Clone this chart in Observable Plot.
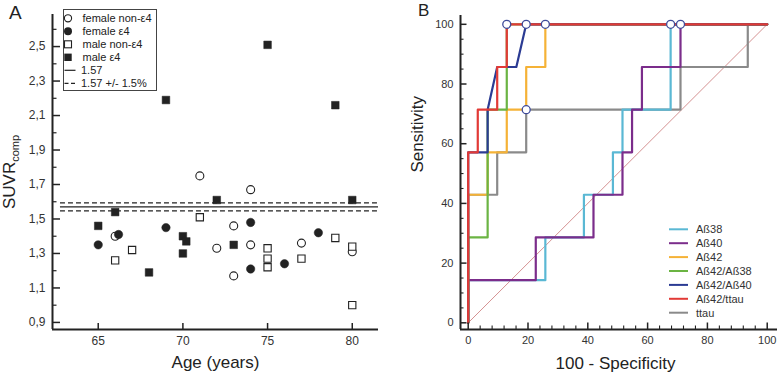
<!DOCTYPE html>
<html><head><meta charset="utf-8">
<script src="https://cdn.jsdelivr.net/npm/d3@7"></script>
<script src="https://cdn.jsdelivr.net/npm/@observablehq/plot@0.6"></script>
<style>
body{margin:0;background:#fff;}
#wrap{display:flex;width:778px;height:373px;overflow:hidden;background:#fff;font-family:"Liberation Sans",Arial,sans-serif;}
svg{display:block;flex:none}
</style></head><body><div id="wrap"></div>
<script>
// ---------- Panel A data: [age, SUVRcomp] ----------
const femaleNonE4 = [[66,1.40],[71,1.75],[72,1.33],[73,1.46],[73,1.17],[74,1.67],[74,1.35],[77,1.36],[80,1.31]];
const femaleE4    = [[65,1.35],[66.2,1.41],[69,1.45],[74,1.48],[74,1.21],[76,1.24],[78,1.42]];
const maleNonE4   = [[66,1.26],[67,1.32],[71,1.51],[75,1.33],[75,1.27],[75,1.22],[77,1.27],[79,1.39],[80,1.34],[80,1.00]];
const maleE4      = [[65,1.46],[66,1.54],[68,1.19],[69,2.19],[70,1.40],[70.2,1.37],[70,1.30],[72,1.61],[73,1.35],[75,2.51],[79,2.16],[80,1.61]];
const threshold = 1.57;
const thresholdBand = 0.015;
const legendA = ["female non-ε4","female ε4","male non-ε4","male ε4","1.57","1.57 +/- 1.5%"];
const ageTicks = [65,70,75,80];
const suvrTicks = [0.9,1.1,1.3,1.5,1.7,1.9,2.1,2.3,2.5];
const suvrMinorTicks = [1.0,1.2,1.4,1.6,1.8,2.0,2.2,2.4,2.6];

// ---------- Panel B data: [100 - specificity, sensitivity] ----------
const rocNames  = ["Aß38","Aß40","Aß42","Aß42/Aß38","Aß42/Aß40","Aß42/ttau","ttau"];
const rocColors = ["#5ab8d4","#7b2d8b","#f5b236","#6bb443","#2b3b93","#e23a36","#8a8a8a"];
const rocAb38 = [[0,0],[0,14.3],[25.8,14.3],[25.8,28.6],[38.7,28.6],[38.7,42.9],[48.4,42.9],[48.4,57.1],[51.6,57.1],[51.6,71.4],[67.7,71.4],[67.7,100],[100,100]];
const rocAb40 = [[0,0],[0,14.3],[22.6,14.3],[22.6,28.6],[41.9,28.6],[41.9,42.9],[51.6,42.9],[51.6,57.1],[54.8,57.1],[54.8,71.4],[58.1,71.4],[58.1,85.7],[71.0,85.7],[71.0,100],[100,100]];
const rocAb42 = [[0,0],[0,42.9],[6.5,42.9],[6.5,57.1],[12.9,57.1],[12.9,71.4],[19.4,71.4],[19.4,85.7],[25.8,85.7],[25.8,100],[100,100]];
const rocAb42Ab38 = [[0,0],[0,28.6],[6.5,28.6],[6.5,71.4],[12.9,71.4],[12.9,100],[100,100]];
const rocAb42Ab40 = [[0,0],[0,57.1],[6.5,57.1],[6.5,71.4],[9.7,85.7],[16.1,85.7],[19.4,100],[100,100]];
const rocAb42Ttau = [[0,0],[0,57.1],[3.2,57.1],[3.2,71.4],[9.7,71.4],[9.7,85.7],[12.9,85.7],[12.9,100],[100,100]];
const rocTtau = [[0,0],[0,42.9],[9.7,42.9],[9.7,57.1],[19.4,57.1],[19.4,71.4],[71.0,71.4],[71.0,85.7],[93.5,85.7],[93.5,100],[100,100]];
const cutoffPoints = [[12.9,100],[19.4,100],[25.8,100],[67.7,100],[71.0,100],[19.4,71.4]];
const chanceLine = [[0,0],[100,100]];
const pctTicks = [0,20,40,60,80,100];
const xMinorTicks = [4,8,12,16,24,28,32,36,44,48,52,56,64,68,72,76,84,88,92,96];
const yMinorTicks = [5,10,15,25,30,35,45,50,55,65,70,75,85,90,95];

const font = "Liberation Sans, Arial, sans-serif";
const ink = "#222";
const fx = d => d[0], fy = d => d[1];

// ---------- Panel A ----------
const WA = 390, HA = 373, mlA = 52, mrA = 12, mtA = 14, mbA = 44;
const pwA = WA - mlA - mrA, phA = HA - mtA - mbA;
const xDomA = [62.3, 81.55], yDomA = [0.859, 2.686];
const plotA = Plot.plot({
  width: WA, height: HA, marginLeft: mlA, marginRight: mrA, marginTop: mtA, marginBottom: mbA,
  style: {fontFamily: font, background: "transparent", color: ink, overflow: "visible"},
  x: {domain: xDomA}, y: {domain: yDomA},
  marks: [
    Plot.ruleY([threshold], {x1: 62.77, x2: xDomA[1], stroke: ink, strokeWidth: 1.3}),
    Plot.ruleY([threshold * (1 - thresholdBand), threshold * (1 + thresholdBand)], {x1: 62.77, x2: xDomA[1], stroke: ink, strokeWidth: 1.3, strokeDasharray: "5,3"}),
    Plot.dot(femaleNonE4, {x: fx, y: fy, symbol: "circle", r: 4, fill: "white", stroke: ink, strokeWidth: 1.1}),
    Plot.dot(femaleE4, {x: fx, y: fy, symbol: "circle", r: 4.2, fill: ink, stroke: ink, strokeWidth: 0.5}),
    Plot.dot(maleNonE4, {x: fx, y: fy, symbol: "square", r: 4.1, fill: "white", stroke: ink, strokeWidth: 1.1}),
    Plot.dot(maleE4, {x: fx, y: fy, symbol: "square", r: 4.3, fill: ink, stroke: ink, strokeWidth: 0.5}),
    Plot.tickY(suvrTicks, {y: d => d, insetRight: pwA - 8, stroke: ink, strokeWidth: 1.5}),
    Plot.tickY(suvrMinorTicks, {y: d => d, insetRight: pwA - 4.5, stroke: ink, strokeWidth: 1.2}),
    Plot.tickX(ageTicks, {x: d => d, insetTop: phA - 6, stroke: ink, strokeWidth: 1.5}),
    Plot.axisY(suvrTicks, {tickSize: 0, tickPadding: 7, tickFormat: d => d.toFixed(1).replace(".", ","), fontSize: 12, label: null, fill: "#333"}),
    Plot.axisX(ageTicks, {tickSize: 0, tickPadding: 7, fontSize: 12, label: null, fill: "#333"}),
    Plot.ruleX([xDomA[0]], {stroke: ink, strokeWidth: 2}),
    Plot.ruleY([yDomA[0]], {stroke: ink, strokeWidth: 2}),
    Plot.text(["Age (years)"], {frameAnchor: "bottom", dy: 33, fontSize: 17, lineAnchor: "middle", fill: ink}),
    Plot.text(["A"], {frameAnchor: "top-left", dx: -43.5, dy: -2, fontSize: 19, lineAnchor: "middle", fill: ink})
  ]
});
{
  const s = d3.select(plotA);
  const t = s.append("text").attr("transform", "translate(15,172) rotate(-90)")
    .attr("text-anchor", "middle").attr("font-size", 17).attr("fill", ink).attr("font-family", font);
  t.append("tspan").text("SUVR");
  t.append("tspan").attr("font-size", 11).attr("dy", 4).text("comp");
  const g = s.append("g").attr("font-family", font).attr("font-size", 11).attr("fill", ink).attr("text-anchor", "start");
  g.append("rect").attr("x", 63.5).attr("y", 9.5).attr("width", 93).attr("height", 81)
    .attr("fill", "white").attr("stroke", "#444").attr("stroke-width", 1);
  const ys = [18.3, 31.2, 44.3, 57.3, 70.3, 83.3];
  g.append("circle").attr("cx", 68).attr("cy", ys[0]).attr("r", 3.6).attr("fill", "white").attr("stroke", ink).attr("stroke-width", 1.1);
  g.append("circle").attr("cx", 68).attr("cy", ys[1]).attr("r", 4).attr("fill", ink);
  g.append("rect").attr("x", 64.5).attr("y", ys[2] - 3.5).attr("width", 7).attr("height", 7).attr("fill", "white").attr("stroke", ink).attr("stroke-width", 1.1);
  g.append("rect").attr("x", 64.3).attr("y", ys[3] - 3.7).attr("width", 7.4).attr("height", 7.4).attr("fill", ink);
  g.append("line").attr("x1", 64.5).attr("x2", 75.5).attr("y1", ys[4]).attr("y2", ys[4]).attr("stroke", ink).attr("stroke-width", 1.2);
  g.append("line").attr("x1", 64.5).attr("x2", 77).attr("y1", ys[5]).attr("y2", ys[5]).attr("stroke", ink).attr("stroke-width", 1.2).attr("stroke-dasharray", "4,2.5");
  legendA.forEach((name, i) => {
    g.append("text").attr("x", i < 4 ? 82.5 : 81).attr("y", ys[i]).attr("dy", "0.35em").text(name);
  });
}

// ---------- Panel B ----------
const WB = 388, HB = 373, mlB = 70, mrB = 1, mtB = 15, mbB = 44;
const pwB = WB - mlB - mrB, phB = HB - mtB - mbB;
const xDomB = [-2.575, 103.44], yDomB = [-2.24, 102.95];
const rocSeries = [rocAb38, rocAb40, rocAb42, rocAb42Ab38, rocAb42Ab40, rocAb42Ttau, rocTtau];
const drawOrder = [6, 0, 1, 2, 3, 4, 5];
const plotB = Plot.plot({
  width: WB, height: HB, marginLeft: mlB, marginRight: mrB, marginTop: mtB, marginBottom: mbB,
  style: {fontFamily: font, background: "transparent", color: ink, overflow: "visible"},
  x: {domain: xDomB}, y: {domain: yDomB},
  marks: [
    Plot.line(chanceLine, {x: fx, y: fy, stroke: "#cf8585", strokeWidth: 0.9}),
    ...drawOrder.map(i => Plot.line(rocSeries[i], {x: fx, y: fy, stroke: rocColors[i], strokeWidth: 2.2})),
    Plot.dot(cutoffPoints, {x: fx, y: fy, r: 4, fill: "white", stroke: "#3f4b9a", strokeWidth: 1.3}),
    Plot.tickY(pctTicks, {y: d => d, insetRight: pwB - 6.5, stroke: ink, strokeWidth: 1.5}),
    Plot.tickY(yMinorTicks, {y: d => d, insetRight: pwB - 3.5, stroke: ink, strokeWidth: 1.1}),
    Plot.tickX(pctTicks, {x: d => d, insetTop: phB - 6.5, stroke: ink, strokeWidth: 1.5}),
    Plot.tickX(xMinorTicks, {x: d => d, insetTop: phB - 3.5, stroke: ink, strokeWidth: 1.1}),
    Plot.axisY(pctTicks, {tickSize: 0, tickPadding: 7, fontSize: 11, label: null, fill: "#333"}),
    Plot.axisX(pctTicks, {tickSize: 0, tickPadding: 7, fontSize: 11, label: null, fill: "#333"}),
    Plot.ruleX([xDomB[0]], {stroke: ink, strokeWidth: 2}),
    Plot.ruleY([yDomB[0]], {stroke: ink, strokeWidth: 2}),
    Plot.text(["100 - Specificity"], {frameAnchor: "bottom", dy: 34, dx: -3.5, fontSize: 17, lineAnchor: "middle", fill: ink}),
    Plot.text(["Sensitivity"], {frameAnchor: "left", dx: -43, rotate: -90, fontSize: 17, lineAnchor: "middle", fill: ink}),
    Plot.text(["B"], {frameAnchor: "top-left", dx: -42.5, dy: -5, fontSize: 17, lineAnchor: "middle", fill: ink})
  ]
});
{
  const s = d3.select(plotB);
  const g = s.append("g").attr("font-family", font).attr("font-size", 11).attr("fill", "#333").attr("text-anchor", "start");
  rocNames.forEach((name, i) => {
    const y = 229.3 + i * 13.9;
    g.append("line").attr("x1", 279).attr("x2", 298).attr("y1", y).attr("y2", y).attr("stroke", rocColors[i]).attr("stroke-width", 2);
    g.append("text").attr("x", 306).attr("y", y).attr("dy", "0.35em").text(name);
  });
}

document.getElementById("wrap").append(plotA, plotB);
</script>
</body></html>
